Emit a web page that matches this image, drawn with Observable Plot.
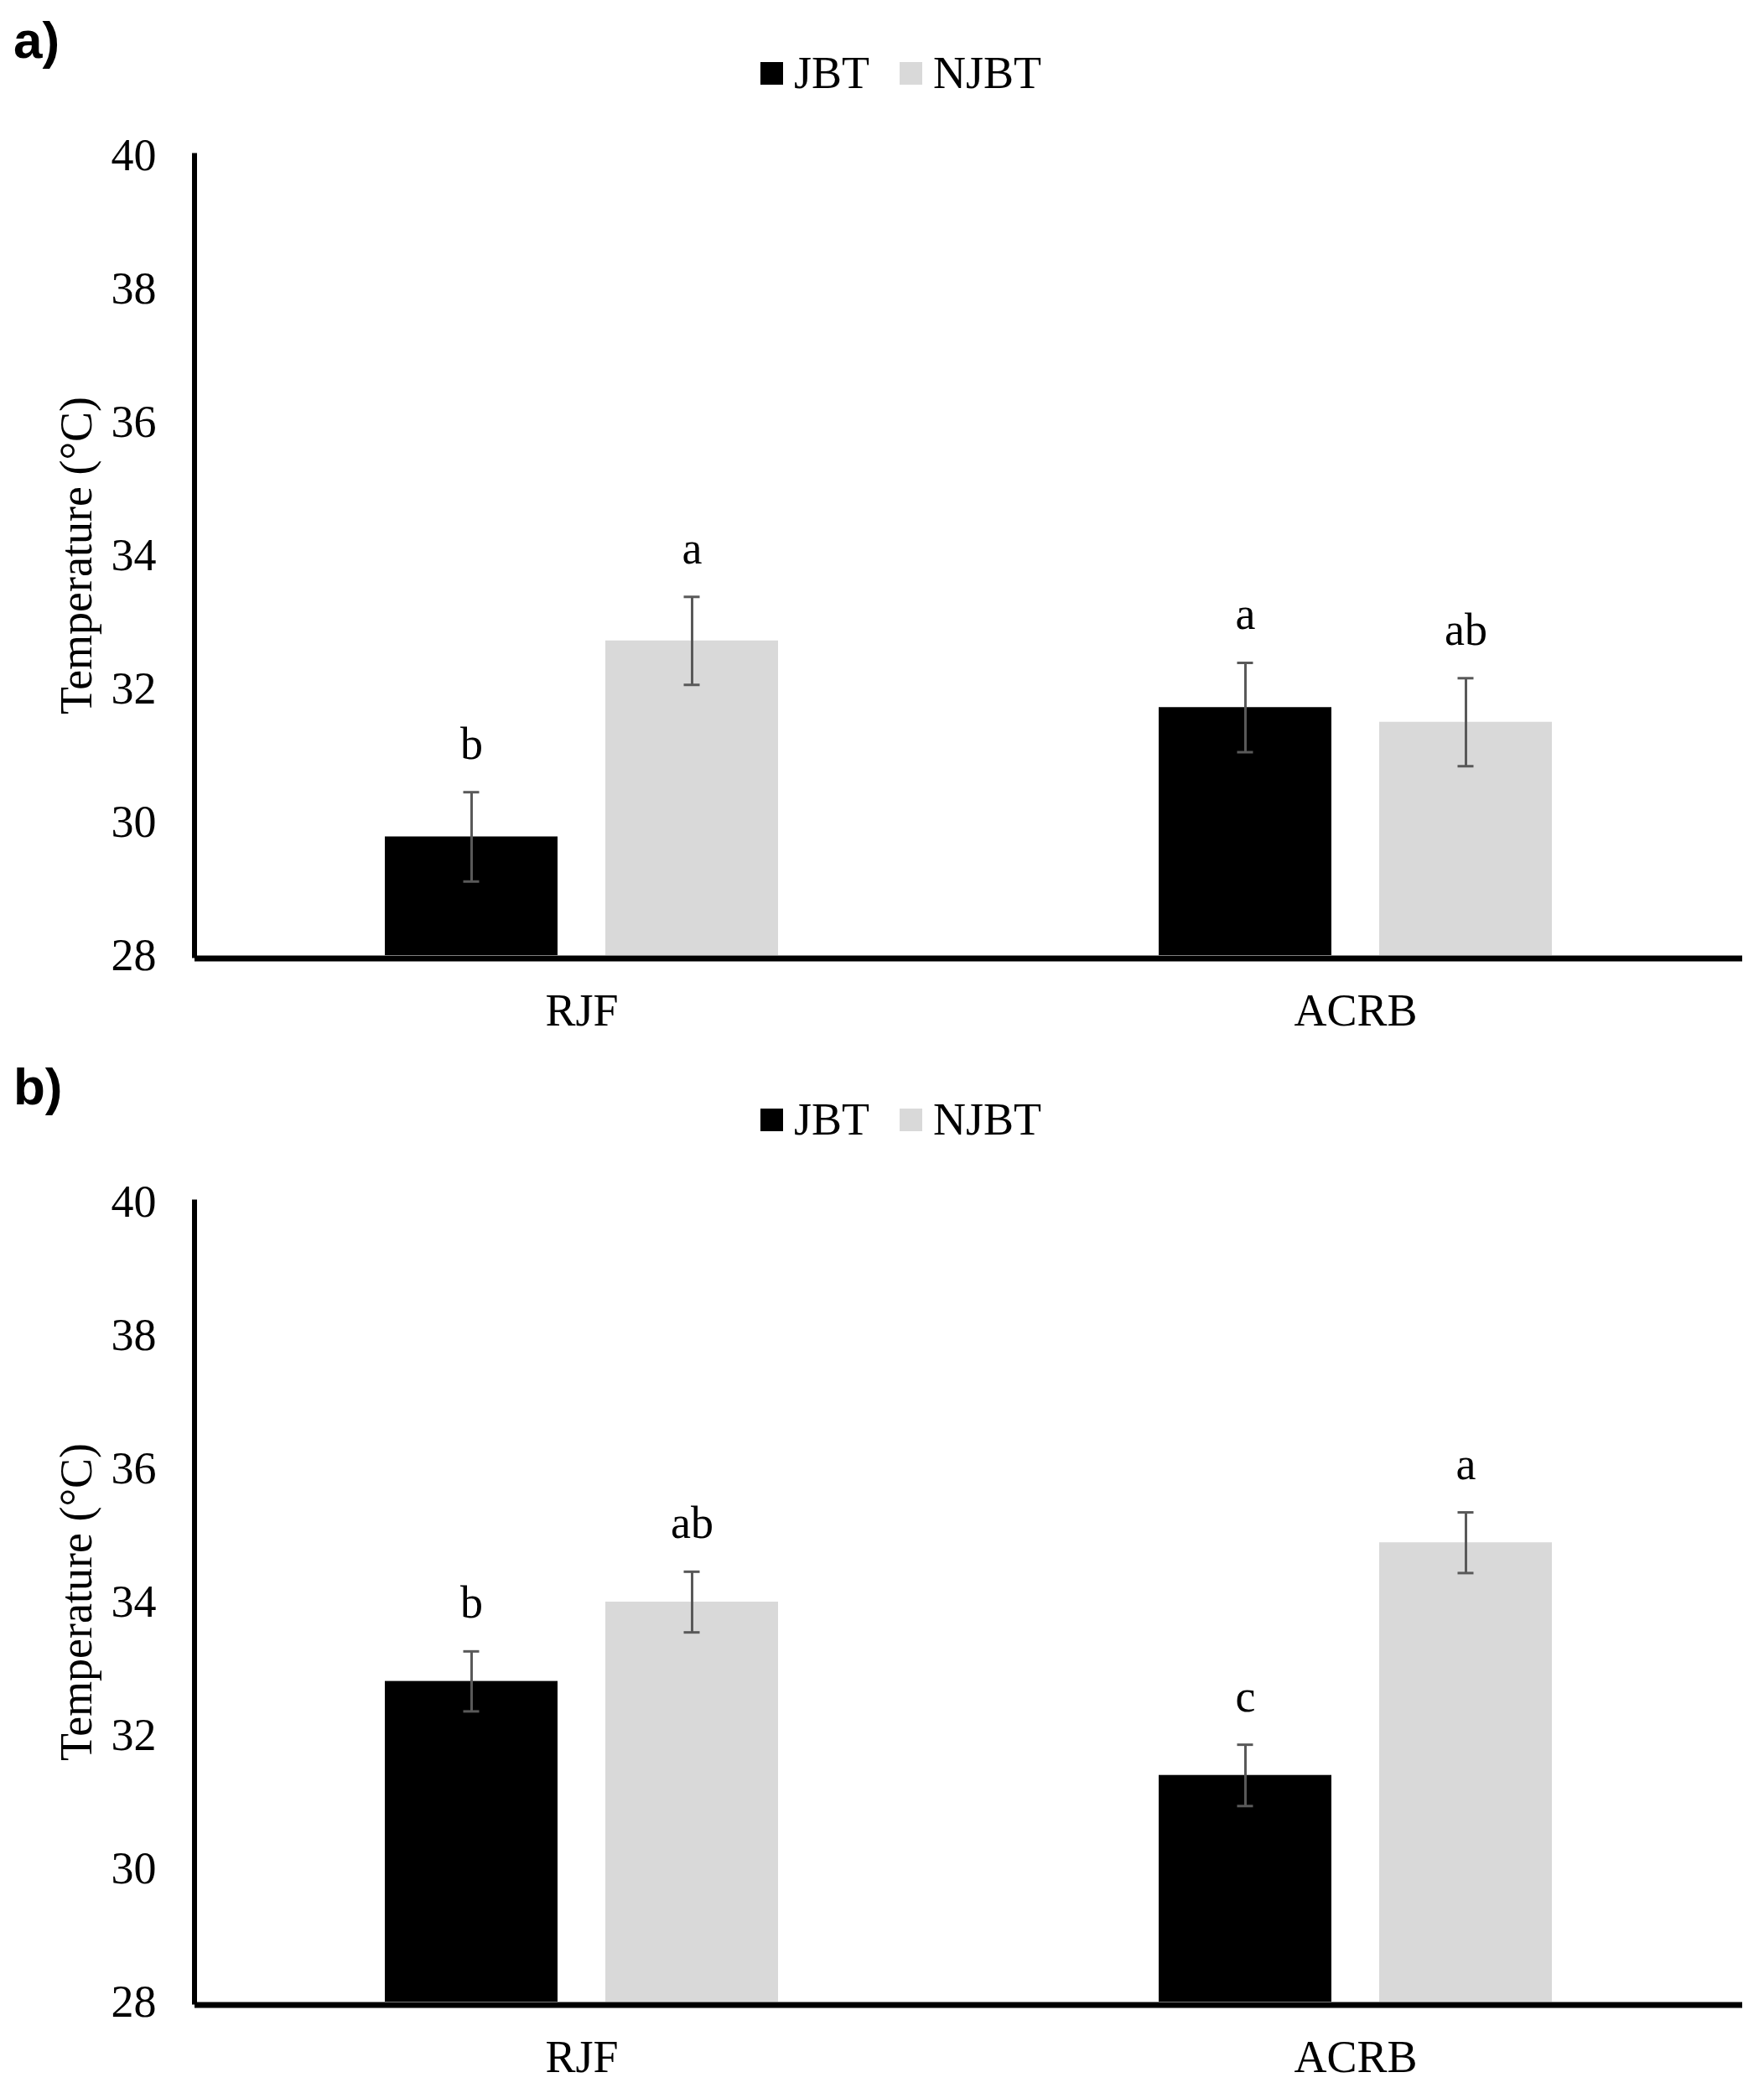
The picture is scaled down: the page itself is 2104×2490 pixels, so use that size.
<!DOCTYPE html>
<html><head><meta charset="utf-8">
<script src="https://cdn.jsdelivr.net/npm/d3@7"></script>
<script src="https://cdn.jsdelivr.net/npm/@observablehq/plot@0.6"></script>
<style>
html,body{margin:0;padding:0;background:#fff;}
body{width:2104px;height:2490px;overflow:hidden;font-family:"Liberation Serif","Times New Roman",serif;color:#000;}
.panel{position:relative;width:2104px;}
.tag{position:absolute;left:16px;top:17px;font-family:"Liberation Sans",Arial,sans-serif;font-weight:bold;font-size:62px;line-height:62px;}
.sw{position:absolute;width:27px;height:27px;top:74px;}
.lt{position:absolute;top:60px;font-size:54px;line-height:54px;white-space:nowrap;}
svg{display:block;}
</style></head><body><div id="root"></div>
<script>
const categories = ["RJF", "ACRB"];
const series = ["JBT", "NJBT"];
const seriesColors = ["#000000", "#d9d9d9"];
const yTicks = [28, 30, 32, 34, 36, 38, 40];
const yLabel = "Temperature (°C)";
const panelTags = ["a)", "b)"];

// panel a)
const meanA_JBT = [29.78, 31.72];
const meanA_NJBT = [32.72, 31.50];
const errA_JBT = [0.67, 0.67];
const errA_NJBT = [0.66, 0.66];
const lettersA_JBT = ["b", "a"];
const lettersA_NJBT = ["a", "ab"];

// panel b)
const meanB_JBT = [32.81, 31.40];
const meanB_NJBT = [34.00, 34.89];
const errB_JBT = [0.45, 0.46];
const errB_NJBT = [0.455, 0.455];
const lettersB_JBT = ["b", "c"];
const lettersB_NJBT = ["ab", "a"];

function buildRows(means, errs, letters) {
  const rows = [];
  categories.forEach((cat, i) => {
    series.forEach((s, j) => {
      rows.push({cat, series: s, value: means[j][i], err: errs[j][i], letter: letters[j][i]});
    });
  });
  return rows;
}

const panels = [
  {tag: panelTags[0], h: 1248, rows: buildRows([meanA_JBT, meanA_NJBT], [errA_JBT, errA_NJBT], [lettersA_JBT, lettersA_NJBT])},
  {tag: panelTags[1], h: 1242, rows: buildRows([meanB_JBT, meanB_NJBT], [errB_JBT, errB_NJBT], [lettersB_JBT, lettersB_NJBT])}
];

const FONT = "'Liberation Serif', 'Times New Roman', serif";
const legendPos = [[907, 947], [1073, 1113]];
const root = document.getElementById("root");

for (const p of panels) {
  const div = document.createElement("div");
  div.className = "panel";
  div.style.height = p.h + "px";
  const tag = document.createElement("div");
  tag.className = "tag";
  tag.textContent = p.tag;
  div.appendChild(tag);
  series.forEach((s, j) => {
    const sw = document.createElement("div");
    sw.className = "sw";
    sw.style.left = legendPos[j][0] + "px";
    sw.style.background = seriesColors[j];
    div.appendChild(sw);
    const lt = document.createElement("div");
    lt.className = "lt";
    lt.style.left = legendPos[j][1] + "px";
    lt.textContent = s;
    div.appendChild(lt);
  });

  const lo = d => d.value - d.err;
  const hi = d => d.value + d.err;
  const chart = Plot.plot({
    width: 2104,
    height: p.h,
    marginLeft: 231,
    marginRight: 26,
    marginTop: 185,
    marginBottom: p.h - 1139,
    style: {fontFamily: FONT, fontSize: "54px", background: "transparent", color: "#000"},
    fx: {domain: categories, padding: 0, label: null},
    x: {domain: series, paddingInner: 0.218, paddingOuter: 0.8613, axis: null, label: null},
    y: {domain: [yTicks[0], yTicks[yTicks.length - 1]], label: null},
    color: {domain: series, range: seriesColors},
    marks: [
      Plot.barY(p.rows, {fx: "cat", x: "series", y1: yTicks[0], y2: "value", fill: "series"}),
      Plot.ruleX(p.rows, {fx: "cat", x: "series", y1: lo, y2: hi, stroke: "#595959", strokeWidth: 3}),
      Plot.tickY(p.rows, {fx: "cat", x: "series", y: lo, stroke: "#595959", strokeWidth: 3, insetLeft: 93.5, insetRight: 93.5}),
      Plot.tickY(p.rows, {fx: "cat", x: "series", y: hi, stroke: "#595959", strokeWidth: 3, insetLeft: 93.5, insetRight: 93.5}),
      Plot.text(p.rows, {fx: "cat", x: "series", y: hi, text: "letter", lineAnchor: "bottom", dy: -40, fontSize: 54, fill: "#000"}),
      Plot.ruleY([yTicks[0]], {stroke: "#000", strokeWidth: 7, dy: 3.5}),
      Plot.frame({anchor: "left", facetAnchor: "left", stroke: "#000", strokeWidth: 6, dx: -0.5}),
      Plot.axisY({ticks: yTicks, tickSize: 0, tickPadding: 46, fontSize: 54, label: null, tickFormat: d => String(d)}),
      Plot.axisFx({anchor: "bottom", tickSize: 0, tickPadding: 45, fontSize: 54, label: null}),
      Plot.text([yLabel], {fx: [categories[0]], frameAnchor: "left", dx: -124, rotate: -90, lineAnchor: "bottom", textAnchor: "middle", fontSize: 54, fill: "#000"})
    ]
  });
  div.appendChild(chart);
  root.appendChild(div);
}
</script>
</body></html>
